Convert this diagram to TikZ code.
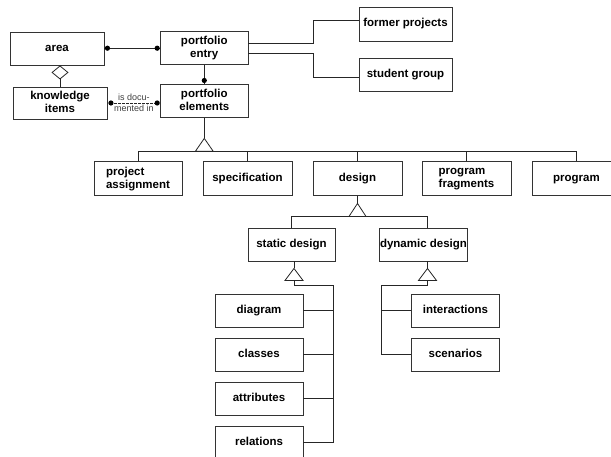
\documentclass[tikz,border=0pt]{standalone}
\usepackage{fontspec}
\setmainfont{Liberation Sans}
\usetikzlibrary{arrows.meta,calc}
\newcommand{\boxstrut}{\rule[-2.4pt]{0pt}{10.8pt}}
\begin{document}
\begin{tikzpicture}[x=1pt,y=-1pt,
  box/.style={draw=black!80, line width=0.9pt, minimum width=88pt, minimum height=33pt,
    inner sep=0pt, font=\fontsize{11.5}{13}\selectfont\bfseries, align=center,
    execute at begin node=\boxstrut, execute at end node=\boxstrut},
  conn/.style={draw=black!85, line width=0.8pt},
  gen/.style={draw=black!85, line width=0.8pt, fill=white, line join=miter},
  dotmark/.style={fill=black},
  lbl/.style={font=\fontsize{9}{11}\selectfont, text=black!75, align=center, inner sep=0pt}
]
\useasboundingbox (0,0) rectangle (611,457);
\clip (0,0) rectangle (611,457);

% top part
\node[box, minimum width=94pt, minimum height=33pt] (area) at (57,48.5) {area};
\node[box, minimum width=87.3pt, minimum height=32.5pt] (entry) at (204.3,48.2) {portfolio\\entry};
\node[box, minimum width=94pt, minimum height=32pt] (know) at (60,103) {knowledge\\items};
\node[box, minimum width=87.3pt, minimum height=33.5pt] (elem) at (204.3,101.2) {portfolio\\elements};
\node[box, minimum width=93pt, minimum height=34pt] (former) at (405.5,24) {former projects};
\node[box, minimum width=93pt, minimum height=33pt] (student) at (405.5,74.5) {student group};

% second row
\node[box, minimum width=88pt, minimum height=34pt, align=left] (assign) at (138,178.7) {project\\assignment};
\node[box, minimum width=89pt, minimum height=34pt] (spec) at (247.5,178.7) {specification};
\node[box, minimum width=89pt, minimum height=34pt] (design) at (357.5,178.7) {design};
\node[box, minimum width=89pt, minimum height=34pt, align=left] (frag) at (466.5,178.7) {program\\fragments};
\node[box, minimum width=89pt, minimum height=34pt] (program) at (576.5,178.7) {program};

% third row
\node[box, minimum width=87pt] (static) at (291.5,244.5) {static design};
\node[box, minimum width=88pt] (dynamic) at (423.5,244.5) {dynamic design};

% leaves
\node[box] (diagram) at (259,310.5) {diagram};
\node[box] (classes) at (259,354.5) {classes};
\node[box] (attributes) at (259,398.5) {attributes};
\node[box] (relations) at (259,442.5) {relations};
\node[box] (interactions) at (455.5,310.5) {interactions};
\node[box] (scenarios) at (455.5,354.5) {scenarios};

% associations
\draw[conn] (area.east |- entry.west) -- (entry.west);
\fill[dotmark] ($(area.east |- entry.west)+(3,0)$) circle (2.6);
\fill[dotmark] ($(entry.west)+(-3,0)$) circle (2.6);
\draw[conn] (entry.south) -- (elem.north);
\fill[dotmark] ($(elem.north)+(0,-3.5)$) circle (2.6);
\draw[conn, dash pattern=on 2.5pt off 1.5pt]
  ($(know.east)+(3,0)$) -- ($(know.east -| elem.west)+(-3,0)$) node[midway, lbl] {is docu-\\mented in};
\fill[dotmark] ($(know.east)+(3.5,0)$) circle (2.6);
\fill[dotmark] ($(know.east -| elem.west)+(-3,0)$) circle (2.6);
\draw[conn, -{Diamond[open, length=14pt, width=17pt]}] (know.north) -- (know.north |- area.south);

% entry to former projects / student group
\coordinate (e1) at ([shift={(0,-5.2)}]entry.east);
\coordinate (e2) at ([shift={(0,4.8)}]entry.east);
\coordinate (f1) at ([shift={(0,-3.3)}]former.west);
\coordinate (s1) at ([shift={(0,3.2)}]student.west);
\draw[conn] (e1) -- ++(65,0) |- (f1);
\draw[conn] (e2) -- ++(65,0) |- (s1);

% generalization of portfolio elements
\coordinate (g1) at ($(elem.south)+(0,20)$);
\coordinate (b1) at ($(g1)+(0,13)$);
\draw[conn] (elem.south) -- (g1);
\draw[conn] (assign.north) -- (assign.north |- b1) -- (program.north |- b1) -- (program.north);
\foreach \n in {spec,design,frag} \draw[conn] (\n.north) -- (\n.north |- b1);
\draw[gen] (g1) -- ++(-9,13) -- ++(18,0) -- cycle;

% generalization of design
\coordinate (g2) at ($(design.south)+(0,7.3)$);
\coordinate (b2) at ($(g2)+(0,13)$);
\coordinate (dyntop) at ([xshift=4pt]dynamic.north);
\draw[conn] (design.south) -- (g2);
\draw[conn] (static.north) -- (static.north |- b2) -- (dyntop |- b2) -- (dyntop);
\draw[gen] (g2) -- ++(-8.5,13) -- ++(17,0) -- cycle;

% generalization of static design
\coordinate (st) at ([xshift=2.5pt]static.south);
\coordinate (g3) at ($(st)+(0,7)$);
\coordinate (b3) at ($(g3)+(0,12)$);
\coordinate (sbus) at ($(diagram.east)+(30,0)$);
\draw[conn] (st) -- (g3);
\draw[conn] (b3) -- ++(0,5) -| (relations.east -| sbus) -- (relations.east);
\foreach \n in {diagram,classes,attributes} \draw[conn] (\n.east) -- (\n.east -| sbus);
\draw[gen] (g3) -- ++(-9,12) -- ++(18,0) -- cycle;

% generalization of dynamic design
\coordinate (dt) at ([xshift=4pt]dynamic.south);
\coordinate (g4) at ($(dt)+(0,7)$);
\coordinate (b4) at ($(g4)+(0,12)$);
\coordinate (dbus) at ($(interactions.west)+(-30,0)$);
\draw[conn] (dt) -- (g4);
\draw[conn] (b4) -- ++(0,5) -| (scenarios.west -| dbus) -- (scenarios.west);
\draw[conn] (interactions.west) -- (interactions.west -| dbus);
\draw[gen] (g4) -- ++(-9,12) -- ++(18,0) -- cycle;
\end{tikzpicture}
\end{document}
